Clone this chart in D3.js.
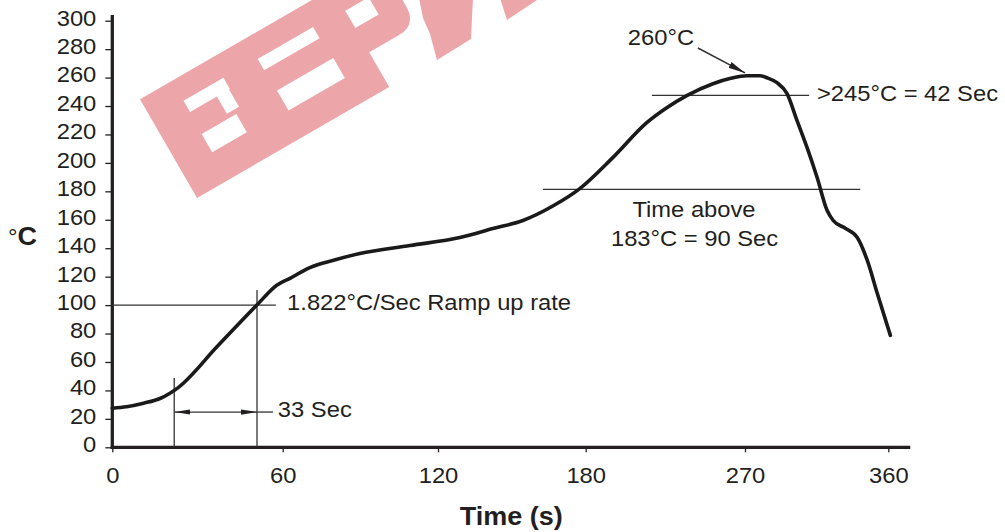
<!DOCTYPE html>
<html>
<head>
<meta charset="utf-8">
<script src="https://cdn.jsdelivr.net/npm/d3@7"></script>
<style>
  body { margin: 0; background: #fff; }
  text { font-family: "Liberation Sans", Arial, Helvetica, sans-serif; fill: #231f20; }
</style>
</head>
<body>
<script>
// Reflow profile (time in s, temperature in °C)
const timeSec = [0, 5, 11, 17, 23.2, 37, 50.9, 57.9, 63, 70.5, 80, 89.8, 109.2, 128.9, 142.3, 154.5, 167, 177.6,
  195.3, 214.5, 225.8, 237.1, 251.9, 262, 271.3, 279.4, 283.8, 290.1, 296.4, 302.7, 309, 315.3, 321.6, 325.4,
  333, 340.5, 346.8, 353.1, 361.3];
const tempC = [27.5, 28.5, 31, 34.5, 42, 71, 100, 114, 119, 126.4, 131.7, 136.3, 141.9, 147.5, 153.8, 159.5, 170, 181.9,
  203.7, 228.3, 238.8, 247.3, 255.7, 259.5, 261.3, 261.3, 259.9, 256.4, 248.7, 229.7, 210.7, 189.7, 166.5, 159.5,
  154, 147.5, 131.4, 108.2, 78.7];

const xTicks = [0, 60, 120, 180, 270, 360];
const yTicks = d3.range(0, 301, 20);

// the printed time axis is not evenly spaced, so the scale is piecewise
const xPos = [112.3, 282.7, 438, 585.7, 745, 888.3];

const W = 1005, H = 532;
const svg = d3.select('body').append('svg').attr('width', W).attr('height', H);

const x = d3.scaleLinear().domain(xTicks).range(xPos);
const y = d3.scaleLinear().domain([0, 300]).range([447.3, 20.7]);

const INK = '#231f20';
const STRETCH = 1.08; // type in the picture is a bit wider than Arial

function stretch(sel) {
  sel.each(function() {
    const ax = +this.getAttribute('x') || 0;
    d3.select(this).attr('transform', `matrix(${STRETCH},0,0,1,${-(STRETCH - 1) * ax},0)`);
  });
}

// ---- watermark (band drawn in a rotated frame: u along the band, v across it)
const PINK = '#eca6aa';
const wm = svg.append('g').attr('transform', 'translate(197,198) rotate(-30)');
wm.append('rect').attr('x', 0).attr('y', -114).attr('width', 222).attr('height', 114).attr('fill', PINK);
wm.append('path').attr('d', 'M220,-40 H256 Q277,-40 277,-62 V-150 H220 Z').attr('fill', PINK);
const holes = [[37, 83, 78, 91], [68, 82, 58, 80], [36, 76, 32, 53], [122, 186, 77, 90], [123, 188, 30, 53], [222, 249, 68, 88]];
wm.selectAll('rect.hole').data(holes).enter().append('rect')
  .attr('class', 'hole')
  .attr('x', d => d[0]).attr('width', d => d[1] - d[0])
  .attr('y', d => -d[3]).attr('height', d => d[3] - d[2])
  .attr('fill', '#fff');
// the "W", cut by the top edge
svg.append('path').attr('d', 'M419,-2 L473,-2 L471,39 L437,60 L430,34 L423,18 Z').attr('fill', PINK);
svg.append('path').attr('d', 'M500,-2 L540,-2 L507,20 Z').attr('fill', PINK);

// ---- axes
const yAxis = svg.append('g').attr('transform', `translate(${x(0)},0)`)
  .call(d3.axisLeft(y).tickValues(yTicks).tickSize(7).tickPadding(9));
const xAxis = svg.append('g').attr('transform', `translate(0,${y(0)})`)
  .call(d3.axisBottom(x).tickValues(xTicks).tickSize(5).tickPadding(15));

[yAxis, xAxis].forEach(g => {
  g.select('.domain').remove();
  g.selectAll('line').attr('stroke', INK).attr('stroke-width', 1.3);
  g.selectAll('text').attr('font-size', 22).attr('fill', INK)
    .attr('font-family', '"Liberation Sans", Arial, sans-serif');
});
yAxis.selectAll('text').attr('dy', '0.2em');
stretch(yAxis.selectAll('text'));
stretch(xAxis.selectAll('text'));

svg.append('line').attr('x1', x(0)).attr('x2', x(0)).attr('y1', y(0) + 1.6).attr('y2', y(304))
  .attr('stroke', INK).attr('stroke-width', 3.3);
svg.append('line').attr('x1', x(0) - 1.6).attr('x2', x(373.8)).attr('y1', y(0)).attr('y2', y(0))
  .attr('stroke', INK).attr('stroke-width', 3.3);

// axis titles
svg.append('text').attr('x', (x(0) + x(373.8)) / 2).attr('y', 525)
  .attr('text-anchor', 'middle').attr('font-size', 25).attr('font-weight', 'bold')
  .text('Time (s)').call(stretch);
const yt = svg.append('text').attr('x', 8).attr('y', 245).attr('font-size', 25);
yt.append('tspan').attr('font-size', 22).text('°');
yt.append('tspan').attr('font-weight', 'bold').text('C');
stretch(yt);

// ---- markers
const defs = svg.append('defs');
[['arrowSmall', 16, 2.6], ['arrowPeak', 17, 3.2]].forEach(([id, len, w]) => {
  defs.append('marker').attr('id', id)
    .attr('markerUnits', 'userSpaceOnUse')
    .attr('markerWidth', len + 2).attr('markerHeight', 2 * w + 2)
    .attr('viewBox', `0 ${-w - 1} ${len + 2} ${2 * w + 2}`)
    .attr('refX', len).attr('refY', 0)
    .attr('orient', 'auto-start-reverse')
    .append('path').attr('d', `M0,${-w} L${len},0 L0,${w} Z`).attr('fill', INK);
});

// ---- annotation lines (data units)
const annoLines = [
  { t1: 0, T1: 100, t2: 57.6, T2: 100 },          // 100°C reference
  { t1: 50.95, T1: 0, t2: 50.95, T2: 110.7 },     // end of ramp
  { t1: 21.8, T1: 0, t2: 21.8, T2: 48.7 },        // start of ramp
  { t1: 50.95, T1: 24.8, t2: 56.6, T2: 24.8 },    // leader to "33 Sec"
  { t1: 162.6, T1: 181.4, t2: 342.4, T2: 181.4 }, // 183°C line
  { t1: 217.4, T1: 247.5, t2: 310.3, T2: 247.5 }  // 245°C line
];
svg.selectAll('line.anno').data(annoLines).enter().append('line')
  .attr('class', 'anno')
  .attr('x1', d => x(d.t1)).attr('y1', d => y(d.T1))
  .attr('x2', d => x(d.t2)).attr('y2', d => y(d.T2))
  .attr('stroke', '#333').attr('stroke-width', 1.3);

// 33 s dimension arrow
svg.append('line')
  .attr('x1', x(21.8)).attr('x2', x(50.95)).attr('y1', y(24.8)).attr('y2', y(24.8))
  .attr('stroke', '#333').attr('stroke-width', 1.3)
  .attr('marker-start', 'url(#arrowSmall)').attr('marker-end', 'url(#arrowSmall)');

// peak arrow
svg.append('line')
  .attr('x1', x(243.4)).attr('y1', y(280.8)).attr('x2', x(270)).attr('y2', y(263.3))
  .attr('stroke', '#333').attr('stroke-width', 1.5)
  .attr('marker-end', 'url(#arrowPeak)');

// ---- profile curve
const line = d3.line().x(d => x(d[0])).y(d => y(d[1])).curve(d3.curveMonotoneX);
svg.append('path').datum(d3.zip(timeSec, tempC))
  .attr('d', line).attr('fill', 'none')
  .attr('stroke', '#1a1a1a').attr('stroke-width', 3.6)
  .attr('stroke-linejoin', 'round').attr('stroke-linecap', 'round');

// ---- annotation text
const labels = [
  { t: 203.8, T: 283, text: '260°C', anchor: 'start' },
  { t: 315.2, T: 243.5, text: '>245°C = 42 Sec', anchor: 'start' },
  { t: 241.2, T: 162.0, text: 'Time above', anchor: 'middle' },
  { t: 241.5, T: 141.6, text: '183°C = 90 Sec', anchor: 'middle' },
  { t: 61.7, T: 96.6, text: '1.822°C/Sec Ramp up rate', anchor: 'start' },
  { t: 58.3, T: 21.3, text: '33 Sec', anchor: 'start' }
];
svg.selectAll('text.anno').data(labels).enter().append('text')
  .attr('class', 'anno')
  .attr('x', d => x(d.t)).attr('y', d => y(d.T))
  .attr('text-anchor', d => d.anchor)
  .attr('font-size', 22)
  .text(d => d.text)
  .call(stretch);
</script>
</body>
</html>
